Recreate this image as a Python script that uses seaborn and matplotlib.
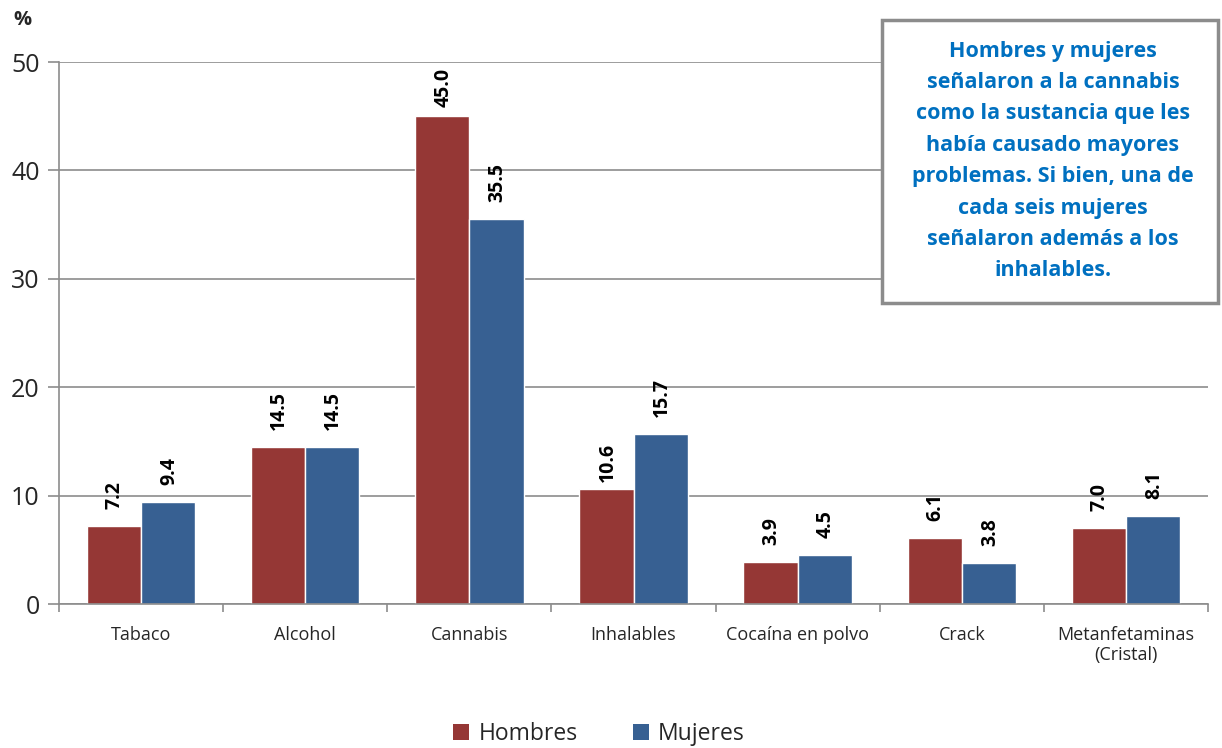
import pandas as pd
import numpy as np
import matplotlib.pyplot as plt
import seaborn as sns
from matplotlib.patches import Patch

sns.set_theme(style="white")
plt.rcParams['font.family'] = ['Open Sans', 'DejaVu Sans']

# Data
categories = ['Tabaco', 'Alcohol', 'Cannabis', 'Inhalables', 'Cocaína en polvo',
              'Crack', 'Metanfetaminas\n(Cristal)']
hombres = [7.2, 14.5, 45.0, 10.6, 3.9, 6.1, 7.0]
mujeres = [9.4, 14.5, 35.5, 15.7, 4.5, 3.8, 8.1]
series = ['Hombres', 'Mujeres']
colors = ['#953735', '#376092']

df = pd.DataFrame({
    'categoria': categories * 2,
    'sexo': ['Hombres'] * len(categories) + ['Mujeres'] * len(categories),
    'valor': hombres + mujeres,
})

fig = plt.figure(figsize=(12.22, 7.48), dpi=100)
ax = fig.add_axes([59 / 1222, 1 - 604 / 748, (1208 - 59) / 1222, (604 - 62) / 748])

sns.barplot(data=df, x='categoria', y='valor', hue='sexo', palette=colors,
            width=0.66, saturation=1, ax=ax, legend=False)

# Value labels above bars (a couple were nudged closer to the bar in the original)
label_gap = {(0, 2): 9, (0, 3): 7}
for s, container in enumerate(ax.containers):
    for i, bar in enumerate(container):
        h = bar.get_height()
        ax.annotate(f'{h:.1f}', (bar.get_x() + bar.get_width() / 2, h),
                    xytext=(1, label_gap.get((s, i), 17)), textcoords='offset pixels',
                    rotation=90, ha='center', va='bottom',
                    fontsize=14, fontweight='bold', color='black')

ax.set_ylim(0, 50)
ax.set_xlim(-0.5, len(categories) - 0.5)
ax.set_yticks([0, 10, 20, 30, 40, 50])
ax.yaxis.grid(True, color='#8c8c8c', linewidth=1.2)
ax.set_axisbelow(True)
ax.set_xlabel('')
ax.set_ylabel('')

for side in ['top', 'right']:
    ax.spines[side].set_visible(False)
for side in ['left', 'bottom']:
    ax.spines[side].set_color('#8c8c8c')
    ax.spines[side].set_linewidth(1.2)

ax.tick_params(axis='y', which='major', length=8, color='#8c8c8c', width=1.2,
               labelsize=18, pad=6, left=True)
ax.tick_params(axis='x', which='major', length=0, labelsize=13, pad=16)
ax.set_xticks(np.arange(-0.5, len(categories)), minor=True)
ax.tick_params(axis='x', which='minor', length=6, color='#8c8c8c', width=1.2, bottom=True)
for lbl in ax.get_xticklabels():
    lbl.set_linespacing(1.15)

fig.text(22 / 1222, 1 - 20 / 748, '%', fontsize=14.5, fontweight='bold',
         ha='center', va='center')

# Annotation box
box_text = ('Hombres y mujeres\nseñalaron a la cannabis\ncomo la sustancia que les\n'
            'había causado mayores\nproblemas. Si bien, una de\ncada seis mujeres\n'
            'señalaron además a los\ninhalables.')
fig.patches.append(plt.Rectangle((882 / 1222, 1 - 303 / 748), 336 / 1222, 283 / 748,
                                 transform=fig.transFigure, facecolor='white',
                                 edgecolor='#8c8c8c', linewidth=2.5, zorder=5))
fig.text(1053 / 1222, 1 - 161 / 748, box_text, fontsize=15.5, fontweight='bold',
         color='#0070C0', ha='center', va='center', linespacing=1.65, zorder=6)

handles = [Patch(facecolor=c, edgecolor='none') for c in colors]
fig.legend(handles, series, loc='center', bbox_to_anchor=(599 / 1222, 1 - 734 / 748),
           ncol=2, frameon=False, fontsize=16.5, handlelength=0.7, handleheight=0.7,
           handletextpad=0.4, columnspacing=2.4)

plt.savefig('out.png', dpi=100)
